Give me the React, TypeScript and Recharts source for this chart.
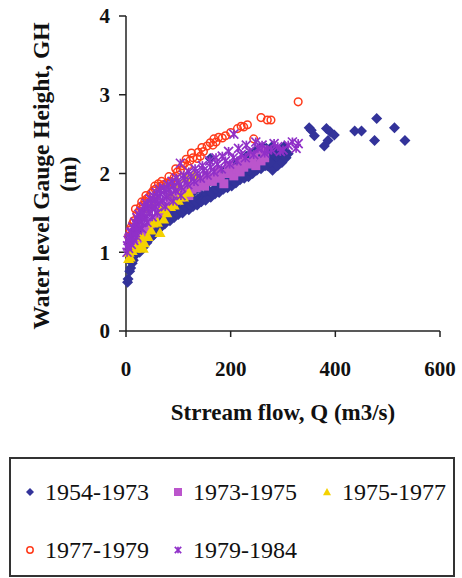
import { ScatterChart, Scatter, XAxis, YAxis, Label } from 'recharts'

// [Q (m3/s), GH (m)]
const s1954: [number, number][] = [
  [3, 0.62], [4, 0.66], [7, 0.76], [9, 0.8], [12, 0.86], [14, 0.9], [10, 0.95], [16, 0.98], [19, 0.97],
  [22, 1.02], [18, 1.08], [25, 1.06], [28, 1.1], [24, 1.15], [31, 1.12], [34, 1.16], [30, 1.22],
  [20, 1.0], [26, 1.0], [33, 1.06], [40, 1.12], [47, 1.18], [53, 1.22], [60, 1.28], [67, 1.32], [74, 1.36],
  [38, 1.18], [42, 1.22], [36, 1.28], [45, 1.26], [48, 1.24], [44, 1.33], [52, 1.3], [55, 1.28], [50, 1.38],
  [58, 1.33], [62, 1.36], [57, 1.42], [65, 1.38], [68, 1.42], [63, 1.48],
  [72, 1.4], [75, 1.44], [70, 1.52], [78, 1.46], [82, 1.44], [80, 1.54], [86, 1.48], [90, 1.5], [88, 1.58],
  [84, 1.4], [92, 1.44], [100, 1.48], [108, 1.5], [112, 1.64], [120, 1.54], [128, 1.58], [136, 1.6],
  [94, 1.52], [98, 1.5], [96, 1.62], [102, 1.54], [106, 1.52], [104, 1.66], [110, 1.56],
  [114, 1.58], [118, 1.62], [116, 1.7], [122, 1.6], [126, 1.64], [124, 1.74], [130, 1.66], [134, 1.64],
  [132, 1.78], [138, 1.68], [142, 1.7], [140, 1.82], [146, 1.72], [150, 1.7], [148, 1.86], [155, 1.74],
  [144, 1.64], [152, 1.66], [162, 1.7], [170, 1.74], [178, 1.76], [186, 1.8], [194, 1.82], [202, 1.84],
  [158, 1.78], [160, 1.9], [161, 2.19],
  [164, 1.76], [168, 1.8], [166, 1.94], [172, 1.8], [176, 1.84], [174, 1.98], [180, 1.82], [184, 1.86],
  [182, 2.02], [188, 1.86], [192, 1.9], [190, 2.05], [196, 1.88], [200, 1.92], [198, 2.08], [205, 1.9],
  [208, 1.96], [206, 2.12], [215, 2.12],
  [210, 1.88], [218, 1.92], [226, 1.94], [234, 1.96], [242, 2.0], [250, 2.04], [258, 2.06], [266, 2.1],
  [212, 1.96], [216, 2.0], [214, 2.15], [220, 1.98], [224, 2.04], [222, 2.18], [228, 2.02], [232, 2.08],
  [230, 2.22], [236, 2.04], [240, 2.1], [238, 2.25], [244, 2.08], [248, 2.14], [246, 2.28], [252, 2.12],
  [256, 2.2], [255, 2.32], [260, 2.16], [264, 2.24], [263, 2.33], [270, 2.1], [272, 2.2], [275, 2.28],
  [280, 2.04], [282, 2.15], [285, 2.22], [288, 2.3], [292, 2.18], [296, 2.25], [300, 2.22], [304, 2.28],
  [276, 2.14], [290, 2.1], [298, 2.14], [306, 2.2], [250, 2.26], [268, 2.32], [280, 2.35], [302, 2.34],
  [310, 2.25], [350, 2.58], [354, 2.55], [360, 2.48], [383, 2.57], [390, 2.53], [398, 2.49], [379, 2.35],
  [386, 2.42], [437, 2.54], [450, 2.54], [479, 2.7], [475, 2.42], [513, 2.58], [533, 2.42],
]

const s1973: [number, number][] = [
  [22, 1.1], [30, 1.2], [38, 1.3], [46, 1.36], [55, 1.42], [62, 1.5], [70, 1.52], [78, 1.58], [85, 1.62],
  [92, 1.66], [98, 1.74], [105, 1.7], [112, 1.76], [120, 1.72], [126, 1.8], [134, 1.82], [142, 1.86],
  [150, 1.84], [158, 1.92], [165, 1.9], [172, 1.96], [180, 1.94], [187, 1.87], [194, 2.0], [200, 2.04],
  [206, 1.97], [212, 2.06], [218, 2.02], [225, 2.08], [232, 2.12], [240, 2.14], [248, 2.1], [258, 2.16],
  [265, 2.2], [60, 1.6], [80, 1.7], [100, 1.8], [118, 1.86], [136, 1.92], [154, 1.98], [176, 2.04],
  [196, 2.1], [222, 2.16], [244, 2.22], [260, 2.3],
]

const s1975: [number, number][] = [
  [5, 0.92], [8, 0.94], [6, 1.0], [12, 1.02], [18, 1.05], [25, 1.08], [33, 1.05], [35, 1.12], [30, 1.2],
  [42, 1.2], [48, 1.28], [52, 1.37], [65, 1.25], [60, 1.38], [72, 1.42], [78, 1.5], [68, 1.55], [85, 1.58],
  [92, 1.6], [100, 1.66], [110, 1.7], [120, 1.76], [58, 1.72], [48, 1.62], [40, 1.55], [100, 1.87],
  [88, 1.88], [75, 1.85], [85, 1.74], [104, 1.72], [115, 1.95], [130, 1.98],
]

const s1977: [number, number][] = [
  [5, 1.2], [8, 1.28], [13, 1.37], [15, 1.4], [21, 1.49], [18, 1.55], [25, 1.52], [33, 1.6], [28, 1.58],
  [36, 1.65], [40, 1.68], [44, 1.7], [48, 1.75], [52, 1.78], [56, 1.8], [62, 1.87], [66, 1.84], [72, 1.86],
  [78, 1.88], [85, 1.9], [92, 1.95], [98, 2.02], [104, 2.04], [108, 2.1], [112, 2.13], [118, 2.1],
  [122, 2.16], [128, 2.2], [136, 2.19], [138, 2.27], [142, 2.22], [148, 2.28], [155, 2.35], [161, 2.39],
  [166, 2.36], [172, 2.4], [177, 2.46], [184, 2.45], [190, 2.48], [213, 2.57], [220, 2.6], [225, 2.59],
  [244, 2.44], [258, 2.71], [270, 2.68], [277, 2.68], [329, 2.91],
  [10, 1.32], [30, 1.64], [38, 1.72], [55, 1.84], [68, 1.9], [82, 1.96], [95, 2.06], [115, 2.18],
  [125, 2.26], [145, 2.33], [168, 2.44], [200, 2.52], [232, 2.62],
]

const s1979: [number, number][] = [
  [2, 1.0], [3, 1.08], [4, 1.15], [5, 1.05], [7, 1.12], [8, 1.2], [10, 1.1], [12, 1.18], [11, 1.26],
  [14, 1.22], [16, 1.3], [15, 1.15], [18, 1.25], [20, 1.35], [22, 1.28], [24, 1.4], [26, 1.32], [28, 1.45],
  [30, 1.38], [33, 1.5], [35, 1.42], [38, 1.55], [40, 1.46], [43, 1.58], [45, 1.5], [48, 1.62], [50, 1.55],
  [54, 1.66], [56, 1.58], [60, 1.7], [63, 1.62], [66, 1.74], [70, 1.66], [74, 1.78], [78, 1.7], [82, 1.8],
  [86, 1.74], [90, 1.84], [95, 1.78], [100, 1.88], [104, 2.13], [106, 1.82], [112, 1.92], [118, 1.86],
  [124, 1.96], [130, 1.9], [136, 2.0], [142, 1.94], [148, 2.04], [155, 1.98], [162, 2.08], [168, 2.02],
  [175, 2.12], [182, 2.06], [190, 2.16], [198, 2.12], [206, 2.5], [205, 2.2], [212, 2.16], [220, 2.24],
  [228, 2.2], [236, 2.28], [244, 2.24], [252, 2.32], [260, 2.36], [270, 2.3], [283, 2.38], [290, 2.34],
  [300, 2.3], [318, 2.4], [329, 2.38], [325, 2.32],
  [6, 1.18], [9, 1.25], [13, 1.32], [17, 1.38], [21, 1.44], [25, 1.48], [29, 1.52], [34, 1.58], [39, 1.62],
  [46, 1.68], [52, 1.72], [58, 1.76], [64, 1.8], [72, 1.82], [80, 1.86], [88, 1.9], [96, 1.94], [110, 1.98],
  [120, 2.02], [132, 2.06], [146, 2.1], [160, 2.16], [172, 2.2], [184, 2.22], [196, 2.28], [215, 2.32],
  [230, 2.36], [248, 2.4], [265, 2.26], [278, 2.3], [295, 2.28], [310, 2.36], [20, 1.2], [30, 1.3],
  [40, 1.38], [50, 1.45], [60, 1.5], [75, 1.58], [90, 1.65], [105, 1.72],
]

const xTicks = [0, 200, 400, 600]
const yTicks = [0, 1, 2, 3, 4]
const seriesNames = ['1954-1973', '1973-1975', '1975-1977', '1977-1979', '1979-1984']

const BLUE = '#33339a'
const MAGENTA = '#bb55cc'
const YELLOW = '#f4d200'
const RED = '#ff3a1a'
const PURPLE = '#9030c8'

const SERIF = '"Liberation Serif", "Times New Roman", serif'

const toPts = (arr: [number, number][]) => arr.map(([q, gh]) => ({ q, gh }))

function Diamond({ cx, cy, r = 5.5 }: any) {
  return <polygon points={`${cx},${cy - r} ${cx + r},${cy} ${cx},${cy + r} ${cx - r},${cy}`} fill={BLUE} />
}
function Square({ cx, cy, r = 4.5 }: any) {
  return <rect x={cx - r} y={cy - r} width={r * 2} height={r * 2} fill={MAGENTA} />
}
function Triangle({ cx, cy, r = 5.5 }: any) {
  return <polygon points={`${cx},${cy - r} ${cx + r},${cy + r * 0.8} ${cx - r},${cy + r * 0.8}`} fill={YELLOW} />
}
function Ring({ cx, cy, r = 3.8 }: any) {
  return <circle cx={cx} cy={cy} r={r} fill="none" stroke={RED} strokeWidth={1.5} />
}
function Star({ cx, cy, r = 4.5 }: any) {
  return (
    <g stroke={PURPLE} strokeWidth={1.7}>
      <line x1={cx - r} y1={cy - r} x2={cx + r} y2={cy + r} />
      <line x1={cx - r} y1={cy + r} x2={cx + r} y2={cy - r} />
      <line x1={cx} y1={cy - r} x2={cx} y2={cy + r} />
    </g>
  )
}

const legendMarks = [Diamond, Square, Triangle, Ring, Star]

function YTitle() {
  return (
    <g fontFamily={SERIF} fontWeight="bold" fontSize={23.5} fill="#111">
      <text x={41} y={176} transform="rotate(-90 41 176)" textAnchor="middle" dominantBaseline="central">
        Water level Gauge Height, GH
      </text>
      <text x={68} y={174} transform="rotate(-90 68 174)" textAnchor="middle" dominantBaseline="central">
        (m)
      </text>
    </g>
  )
}

function XTitle({ viewBox }: any) {
  const cx = viewBox ? viewBox.x + viewBox.width / 2 : 283
  return (
    <text x={cx} y={412} textAnchor="middle" dominantBaseline="central" fontFamily={SERIF} fontWeight="bold" fontSize={23} fill="#111">
      Strream flow, Q (m3/s)
    </text>
  )
}

function LegendBox() {
  const spots = [
    { x: 30, y: 492 }, { x: 178, y: 492 }, { x: 327, y: 492 },
    { x: 30, y: 550 }, { x: 178, y: 550 },
  ]
  return (
    <div style={{ position: 'absolute', left: 0, top: 0, width: 462, height: 578, pointerEvents: 'none' }}>
      <div style={{ position: 'absolute', left: 9, top: 457, width: 442, height: 116, border: '2px solid #333' }} />
      <svg width={462} height={578} style={{ position: 'absolute', left: 0, top: 0 }}>
        {seriesNames.map((name, i) => {
          const M = legendMarks[i]
          const s = spots[i]
          return (
            <g key={name}>
              <M cx={s.x} cy={s.y} r={i >= 3 ? 3.2 : 4} />
              <text x={s.x + 15} y={s.y} dominantBaseline="central" fontFamily={SERIF} fontSize={24} fill="#111">
                {name}
              </text>
            </g>
          )
        })}
      </svg>
    </div>
  )
}

const tickStyle = { fontFamily: SERIF, fontWeight: 'bold', fontSize: 21, fill: '#111' }

export default function App() {
  return (
    <div style={{ position: 'absolute', left: 0, top: 0, width: 462, height: 578, background: '#fff' }}>
      <ScatterChart width={462} height={578} margin={{ top: 16, right: 22, left: 0, bottom: 187 }}>
        <XAxis
          type="number"
          dataKey="q"
          domain={[0, 600]}
          ticks={xTicks}
          interval={0}
          tick={tickStyle}
          tickSize={6}
          tickMargin={24}
          height={60}
          axisLine={{ stroke: '#222', strokeWidth: 1.5 }}
          tickLine={{ stroke: '#222', strokeWidth: 1.5 }}
        >
          <Label content={<XTitle />} />
        </XAxis>
        <YAxis
          type="number"
          dataKey="gh"
          domain={[0, 4]}
          ticks={yTicks}
          interval={0}
          width={126}
          tick={tickStyle}
          tickSize={7}
          tickMargin={9}
          axisLine={{ stroke: '#222', strokeWidth: 1.5 }}
          tickLine={{ stroke: '#222', strokeWidth: 1.5 }}
        >
          <Label content={<YTitle />} />
        </YAxis>
        <Scatter name={seriesNames[0]} data={toPts(s1954)} shape={(p: any) => <Diamond cx={p.cx} cy={p.cy} />} isAnimationActive={false} />
        <Scatter name={seriesNames[1]} data={toPts(s1973)} shape={(p: any) => <Square cx={p.cx} cy={p.cy} />} isAnimationActive={false} />
        <Scatter name={seriesNames[2]} data={toPts(s1975)} shape={(p: any) => <Triangle cx={p.cx} cy={p.cy} />} isAnimationActive={false} />
        <Scatter name={seriesNames[3]} data={toPts(s1977)} shape={(p: any) => <Ring cx={p.cx} cy={p.cy} />} isAnimationActive={false} />
        <Scatter name={seriesNames[4]} data={toPts(s1979)} shape={(p: any) => <Star cx={p.cx} cy={p.cy} />} isAnimationActive={false} />
      </ScatterChart>
      <LegendBox />
    </div>
  )
}
